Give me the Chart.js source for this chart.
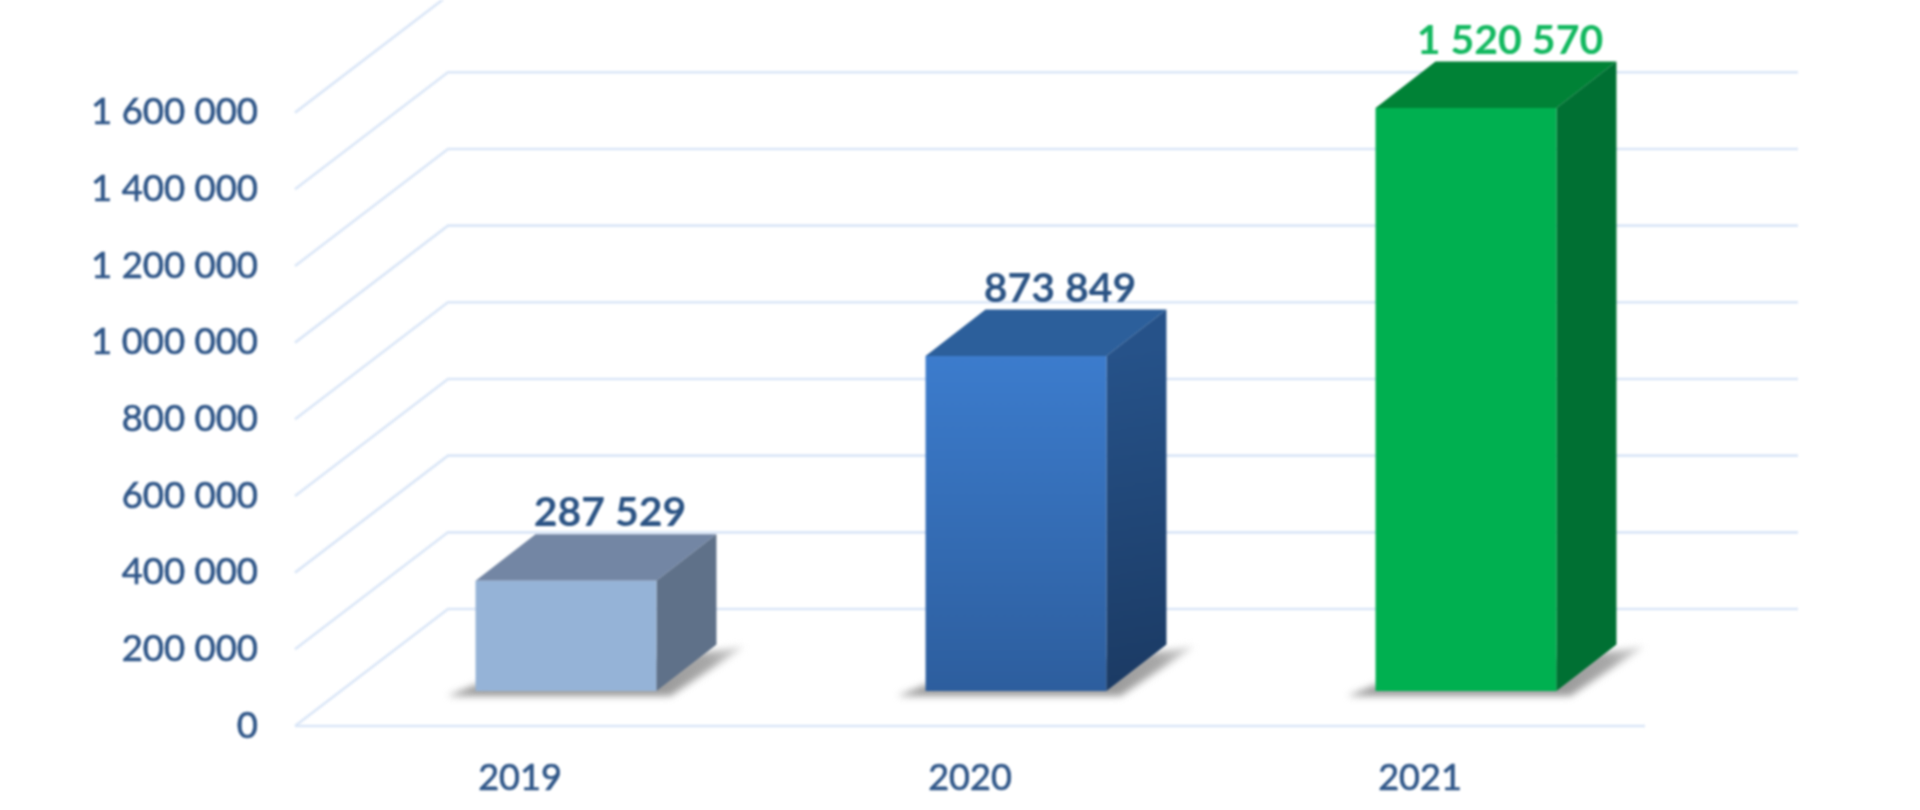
<!DOCTYPE html>
<html>
<head>
<meta charset="utf-8">
<title>Chart</title>
<script src="https://cdn.jsdelivr.net/npm/chart.js@4"></script>
<style>
  html, body { margin: 0; padding: 0; background: #fff; }
  canvas { display: block; filter: blur(0.9px); }
</style>
</head>
<body>
<canvas id="grafico" width="1920" height="810"></canvas>
<script>
// dados
var categories = ['2019', '2020', '2021'];
var values = [287529, 873849, 1520570];
var valueLabels = ['287 529', '873 849', '1 520 570'];
var tickLabels = ['0', '200 000', '400 000', '600 000', '800 000', '1 000 000', '1 200 000', '1 400 000', '1 600 000'];

// estilo das caixas 3D
var frontTop = ['#95B3D7', '#3C7CCD', '#00B050'];
var frontBottom = ['#95B3D7', '#2D5E9E', '#00B050'];
var topFace = ['#7386A4', '#2C5F9B', '#008236'];
var sideTop = ['#5F7189', '#265289', '#007033'];
var sideBottom = ['#5F7189', '#1B3A63', '#007033'];
var labelColors = ['#2B5384', '#2B5384', '#12B85F'];

var textBlue = '#2F5688';
var gridColor = '#DAE6F7';
var wallDx = 153, wallDy = -117;     // profundidade da parede do fundo
var barDx = 46, barDy = -35;         // caixa fica recuada no piso
var boxDx = 60, boxDy = -46.5;       // profundidade da caixa

var grid3d = {
    id: 'grid3d',
    beforeDatasetsDraw: function(chart) {
        var c = chart.ctx, y = chart.scales.y, a = chart.chartArea;
        c.save();
        c.strokeStyle = gridColor;
        c.lineWidth = 2.6;
        y.ticks.forEach(function(t) {
            var py = y.getPixelForValue(t.value);
            c.beginPath();
            c.moveTo(a.left, py);
            c.lineTo(a.left + wallDx, py + wallDy);
            c.lineTo(a.right + wallDx, py + wallDy);
            c.stroke();
        });
        var y0 = y.getPixelForValue(0);
        c.beginPath();
        c.moveTo(a.left, y0);
        c.lineTo(a.right, y0);
        c.stroke();
        c.restore();
    }
};

var box3d = {
    id: 'box3d',
    beforeDatasetDraw: function(chart, args) {
        var c = chart.ctx;
        args.meta.data.forEach(function(bar, i) {
            var l = bar.x - bar.width / 2 + barDx, r = bar.x + bar.width / 2 + barDx;
            var t = bar.y + barDy, b = bar.base + barDy;
            // sombra no piso
            var s = c.createLinearGradient(r, b, r + boxDx + 30, b + boxDy);
            s.addColorStop(0, '#9A9A9A');
            s.addColorStop(0.6, '#A8A8A8');
            s.addColorStop(1, '#E2E2E2');
            c.save();
            c.filter = 'blur(3.5px)';
            c.fillStyle = s;
            c.beginPath();
            c.moveTo(l - 28, b + 5);
            c.lineTo(l, b - 6);
            c.lineTo(r + boxDx + 28, b + boxDy + 2);
            c.lineTo(r + 14, b + 5);
            c.closePath();
            c.fill();
            c.restore();
            // topo
            c.fillStyle = topFace[i];
            c.beginPath();
            c.moveTo(l, t);
            c.lineTo(l + boxDx, t + boxDy);
            c.lineTo(r + boxDx, t + boxDy);
            c.lineTo(r, t);
            c.closePath();
            c.fill();
            // lateral
            var g = c.createLinearGradient(r, t, r + boxDx, b);
            g.addColorStop(0, sideTop[i]);
            g.addColorStop(1, sideBottom[i]);
            c.fillStyle = g;
            c.beginPath();
            c.moveTo(r, t);
            c.lineTo(r + boxDx, t + boxDy);
            c.lineTo(r + boxDx, b + boxDy);
            c.lineTo(r, b);
            c.closePath();
            c.fill();
        });
        // a frente e desenhada pelo proprio Chart.js, deslocada
        c.save();
        c.translate(barDx, barDy);
    },
    afterDatasetDraw: function(chart, args) {
        var c = chart.ctx;
        c.restore();
        c.save();
        c.font = 'bold 41px Lato';
        c.textAlign = 'center';
        c.textBaseline = 'middle';
        args.meta.data.forEach(function(bar, i) {
            c.fillStyle = labelColors[i];
            c.fillText(valueLabels[i], bar.x + barDx + 44, bar.y + barDy + boxDy - 21);
        });
        c.restore();
    }
};

var ctx = document.getElementById('grafico').getContext('2d');
var grafico = new Chart(ctx, {
    type: 'bar',
    data: {
        labels: categories,
        datasets: [{
            data: values,
            clip: false,
            categoryPercentage: 1,
            barPercentage: 0.402,
            backgroundColor: function(context) {
                var i = context.dataIndex;
                if (i === undefined) return frontTop[0];
                var y = context.chart.scales.y;
                var y1 = y ? y.getPixelForValue(values[i]) : NaN;
                var y2 = y ? y.getPixelForValue(0) : NaN;
                if (!isFinite(y1) || !isFinite(y2)) return frontTop[i];
                var g = context.chart.ctx.createLinearGradient(0, y1, 0, y2);
                g.addColorStop(0, frontTop[i]);
                g.addColorStop(1, frontBottom[i]);
                return g;
            }
        }]
    },
    plugins: [grid3d, box3d],
    options: {
        responsive: false,
        animation: false,
        layout: { padding: { top: 112.6, right: 275, bottom: 0, left: 0 } },
        plugins: { legend: { display: false }, tooltip: { enabled: false } },
        scales: {
            x: {
                afterFit: function(s) { s.height = 84; },
                grid: { display: false },
                border: { display: false },
                ticks: {
                    color: textBlue,
                    textStrokeColor: textBlue,
                    textStrokeWidth: 0.7,
                    font: { family: 'Lato', size: 36 },
                    padding: 23,
                    maxRotation: 0
                }
            },
            y: {
                min: 0,
                max: 1600000,
                afterFit: function(s) { s.width = 295; },
                grid: { display: false, drawTicks: false },
                border: { display: false },
                ticks: {
                    stepSize: 200000,
                    padding: 37,
                    color: textBlue,
                    textStrokeColor: textBlue,
                    textStrokeWidth: 0.7,
                    font: { family: 'Lato', size: 36.5 },
                    callback: function(v, i) { return tickLabels[i]; }
                }
            }
        }
    }
});
</script>
</body>
</html>
